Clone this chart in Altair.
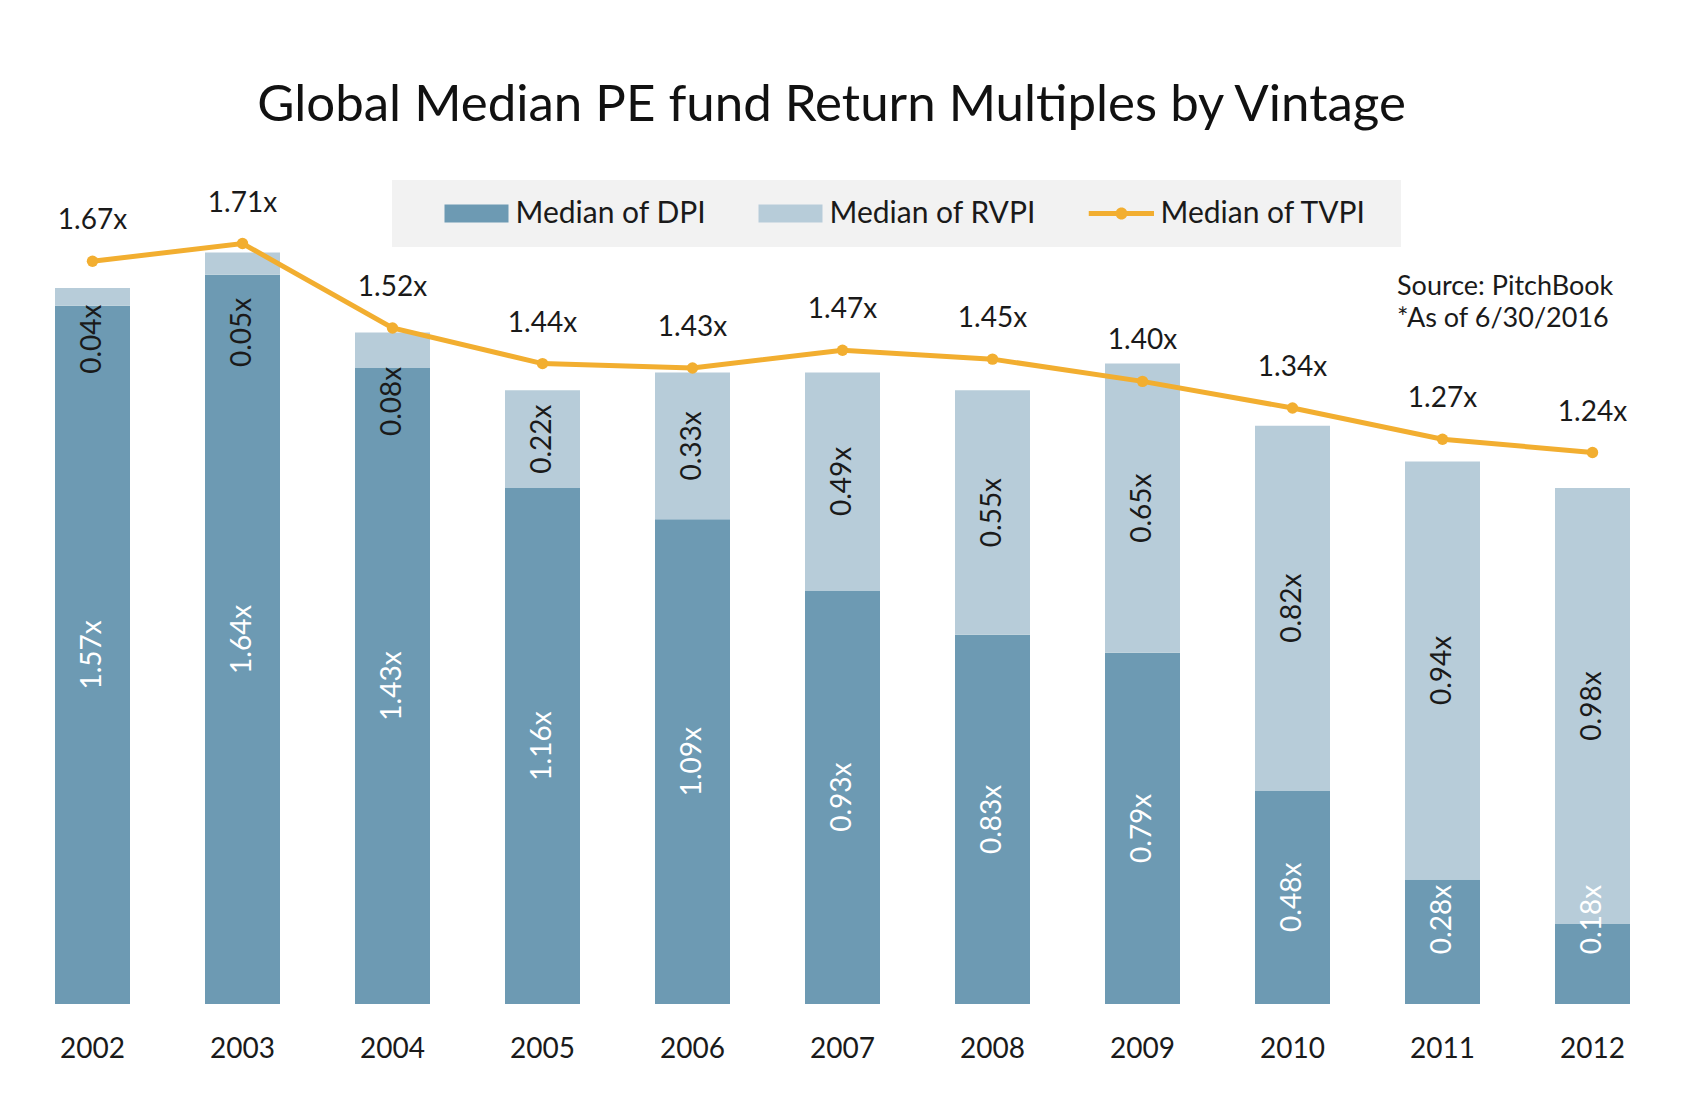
import altair as alt
import pandas as pd

# ---- data ----
years = ["2002", "2003", "2004", "2005", "2006", "2007", "2008", "2009", "2010", "2011", "2012"]
dpi = [1.57, 1.64, 1.43, 1.16, 1.09, 0.93, 0.83, 0.79, 0.48, 0.28, 0.18]
rvpi = [0.04, 0.05, 0.08, 0.22, 0.33, 0.49, 0.55, 0.65, 0.82, 0.94, 0.98]
tvpi = [1.67, 1.71, 1.52, 1.44, 1.43, 1.47, 1.45, 1.40, 1.34, 1.27, 1.24]
series_names = ["Median of DPI", "Median of RVPI", "Median of TVPI"]
note_lines = ["Source: PitchBook", "*As of 6/30/2016"]
title_text = "Global Median PE fund Return Multiples by Vintage"

# ---- styles ----
C_DPI = "#6D9AB3"
C_RVPI = "#B7CCD9"
C_TVPI = "#F2AE30"
FONT = "Lato"
TXT = "#1a1a1a"

# legend symbols (unit = 15 px, symbol anchor 15 px from entry start)
RECT_PATH = "M-1,-0.6H3.267V0.6H-1Z"
LINE_PATH = ("M-1.05,-0.167H3.3V0.167H-1.05Z "
             "M0.733,0A0.4,0.4 0 1,1 1.533,0A0.4,0.4 0 1,1 0.733,0Z")

wide = pd.DataFrame({"year": years, "dpi": dpi, "rvpi": rvpi, "tvpi": tvpi})
long_rows = []
for y, d, r in zip(years, dpi, rvpi):
    long_rows.append({"year": y, "series": series_names[0], "value": d, "ord": 0})
    long_rows.append({"year": y, "series": series_names[1], "value": r, "ord": 1})
bars_df = pd.DataFrame(long_rows)
legend_df = pd.DataFrame({"series": series_names})

x_enc = alt.X(
    "year:O",
    scale=alt.Scale(paddingInner=0.5, paddingOuter=0.25),
    axis=alt.Axis(title=None, labelAngle=0, ticks=False, tickSize=0, domain=False,
                  labelPadding=31, labelFont=FONT, labelFontSize=28, labelColor=TXT),
)
y_scale = alt.Scale(domain=[0, 1.9], nice=False, zero=True)

TAIL = "\u00a0\u00a0\u200b"


def make_legend():
    return alt.Legend(
        orient="none", legendX=374.5, legendY=21, direction="horizontal",
        title="\u00a0", titleOrient="left", titleFontSize=1, titlePadding=34,
        fillColor="#F2F2F2", padding=18.5,
        symbolSize=900, symbolStrokeWidth=0, symbolOpacity=1,
        labelFont=FONT, labelFontSize=30, labelColor=TXT, labelOffset=41, labelLimit=600,
        columnPadding=52,
        labelExpr="datum.label == 'Median of TVPI' ? datum.label + '" + TAIL + "' : datum.label",
    )


color_scale = alt.Scale(domain=series_names, range=[C_DPI, C_RVPI, C_TVPI])
shape_scale = alt.Scale(domain=series_names, range=[RECT_PATH, RECT_PATH, LINE_PATH])

bars = alt.Chart(bars_df).mark_bar().encode(
    x=x_enc,
    y=alt.Y("value:Q", stack="zero", scale=y_scale, axis=None),
    color=alt.Color("series:N", scale=color_scale, legend=make_legend()),
    order=alt.Order("ord:Q", sort="ascending"),
)

# legend carrier: one symbol per series, placed below the baseline and clipped away
legend_layer = alt.Chart(legend_df).mark_point(
    filled=True, opacity=1, size=900, strokeWidth=0, clip=True
).encode(
    x=alt.X("year:O", scale=alt.Scale(paddingInner=0.5, paddingOuter=0.25)),
    y=alt.Y("v:Q", scale=y_scale, axis=None),
    color=alt.Color("series:N", scale=color_scale, legend=make_legend()),
    shape=alt.Shape("series:N", scale=shape_scale, legend=make_legend()),
).transform_calculate(year="'2002'", v="-1")

base = alt.Chart(wide)

line = base.mark_line(color=C_TVPI, strokeWidth=5).encode(
    x=x_enc, y=alt.Y("tvpi:Q", scale=y_scale, axis=None))
pts = base.mark_circle(color=C_TVPI, size=130, opacity=1).encode(
    x=x_enc, y=alt.Y("tvpi:Q", scale=y_scale, axis=None))

tv_labels = base.transform_calculate(
    lab="format(datum.tvpi, '.2f') + 'x'"
).mark_text(font=FONT, fontSize=28, color=TXT, dy=-40, baseline="middle").encode(
    x=x_enc, y=alt.Y("tvpi:Q", scale=y_scale, axis=None), text="lab:N")

dpi_labels = base.transform_calculate(
    pos="max(datum.dpi / 2, 0.19)",
    lab="format(datum.dpi, '.2f') + 'x'",
).mark_text(font=FONT, fontSize=28, color="white", angle=270, align="center",
            baseline="middle").encode(
    x=x_enc, y=alt.Y("pos:Q", scale=y_scale, axis=None), text="lab:N")

rvpi_labels = base.transform_calculate(
    pos="datum.rvpi < 0.1 ? min(datum.dpi - 0.075, 1.51) : datum.dpi + datum.rvpi / 2",
    lab="format(datum.rvpi, '.2f') + 'x'",
).mark_text(font=FONT, fontSize=28, color=TXT, angle=270, align="center",
            baseline="middle").encode(
    x=x_enc, y=alt.Y("pos:Q", scale=y_scale, axis=None), text="lab:N")

note = alt.Chart(pd.DataFrame({"year": ["2011"], "v": [1.594]})).mark_text(
    text=note_lines, font=FONT, fontSize=27, color=TXT, align="left",
    baseline="alphabetic", lineHeight=32, dx=-45.5,
).encode(x=x_enc, y=alt.Y("v:Q", scale=y_scale, axis=None))

chart = alt.layer(bars, legend_layer, line, pts, tv_labels, dpi_labels, rvpi_labels, note).properties(
    width=1650,
    height=845,
    title=alt.TitleParams(text=title_text, font=FONT, fontSize=51, fontWeight="normal",
                          color="#111111", anchor="middle", offset=27, dx=-11),
    autosize=alt.AutoSizeParams(type="none"),
    padding={"left": 9.5, "top": 151, "right": 10, "bottom": 90},
    background="white",
).configure_view(stroke=None)

chart.save("out.html", embed_options={"renderer": "svg", "actions": False})
